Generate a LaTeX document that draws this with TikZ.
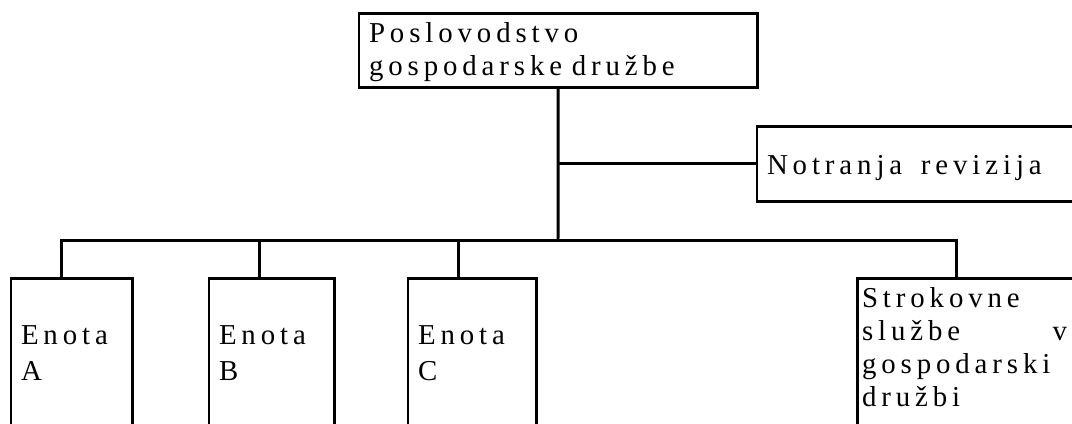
\documentclass[tikz,border=0pt]{standalone}
\usepackage{fontspec}
\usetikzlibrary{positioning}
\newfontfamily\orgfont[LetterSpace=17]{Liberation Serif}
\newcommand\wordgap[1][0.32em]{\spaceskip=#1\relax}

\tikzset{
  orgbox/.style={draw, line width=0.85pt, anchor=north west, outer sep=0pt,
    inner xsep=0.1cm, inner ysep=0pt, align=left,
    font={\orgfont\fontsize{8.2pt}{9.64pt}\selectfont}},
  unitbox/.style={orgbox, text height=0.66cm, text depth=1.8cm,
    font={\orgfont\fontsize{8.2pt}{10.5pt}\selectfont}},
  orgline/.style={line width=0.85pt},
}

\begin{document}
\begin{tikzpicture}[x=0.01cm, y=-0.01cm]
  \useasboundingbox (0,0) rectangle (1072,423);
  \clip (0,0) rectangle (1072,423);

  % management and audit
  \node[orgbox, text width=3.78cm, text height=0.29cm, text depth=0.45cm]
    (uprava) at (359,13) {Poslovodstvo\\gospodarske družbe};
  \node[orgbox, text width=3.13cm, text height=0.48cm, text depth=0.27cm]
    (revizija) at (757,126) {\wordgap[0.65em]Notranja revizija};

  % units
  \node[unitbox, text width=1.01cm] (enotaA) at (11,278) {Enota\\A};
  \node[unitbox, text width=1.05cm] (enotaB) at (209,278) {Enota\\B};
  \node[unitbox, text width=1.08cm] (enotaC) at (408,278) {Enota\\C};
  \node[orgbox, inner xsep=0.05cm, text width=2.25cm, text height=0.29cm,
        text depth=1.6cm, font={\orgfont\fontsize{8.2pt}{9.45pt}\selectfont}]
    (strokovne) at (857,278)
    {Strokovne\\\makebox[2.05cm][l]{službe\hfill v}\\gospodarski\\družbi};

  \coordinate (razvod) at (558,240);

  \draw[orgline] (uprava.south) -- (razvod);
  \draw[orgline] (uprava.south |- revizija.west) -- (revizija.west);
  \draw[orgline] ([xshift=0.5cm]enotaA.north west) |- (razvod)
    -| ([xshift=0.99cm]strokovne.north west);
  \foreach \n in {enotaB,enotaC}
    \draw[orgline] ([xshift=0.5cm]\n.north west) |- (razvod);
\end{tikzpicture}
\end{document}
